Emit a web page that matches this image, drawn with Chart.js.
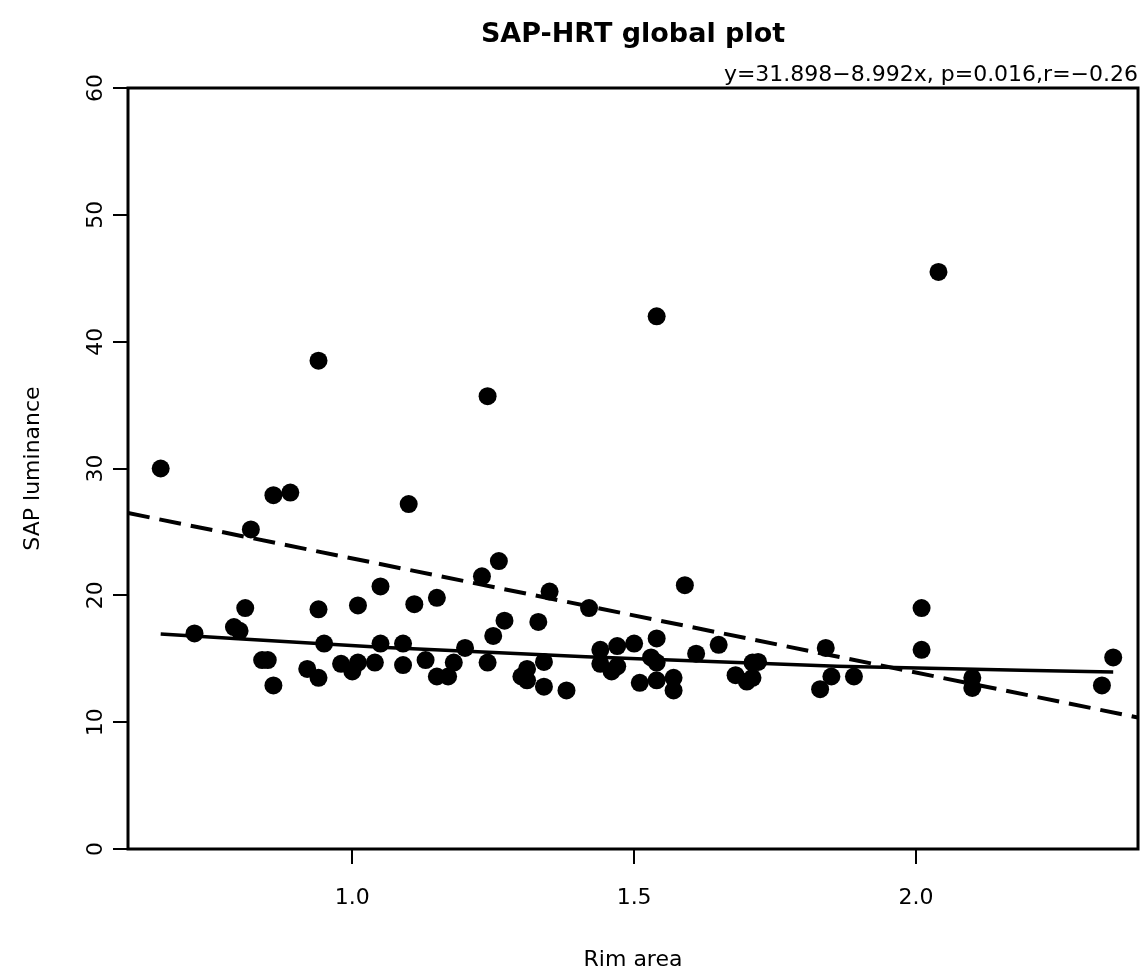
<!DOCTYPE html>
<html>
<head>
<meta charset="utf-8">
<title>SAP-HRT global plot</title>
<script src="https://cdn.jsdelivr.net/npm/chart.js@4.4.0/dist/chart.umd.min.js"></script>
<style>
  html, body { margin: 0; padding: 0; background: #fff; }
  #wrap { width: 1147px; height: 973px; }
</style>
</head>
<body>
<div id="wrap"><canvas id="chart" width="1147" height="973"></canvas></div>
<script>
// Data
const rimArea = [
  0.66, 0.72, 0.79, 0.80, 0.81, 0.82, 0.84, 0.85, 0.86, 0.86,
  0.89, 0.92, 0.94, 0.94, 0.94, 0.95, 0.98, 1.00, 1.01, 1.01,
  1.04, 1.05, 1.05, 1.09, 1.09, 1.10, 1.11, 1.13, 1.15, 1.15,
  1.17, 1.18, 1.20, 1.23, 1.24, 1.24, 1.25, 1.26, 1.27, 1.30,
  1.31, 1.31, 1.33, 1.34, 1.34, 1.35, 1.38, 1.42, 1.44, 1.44,
  1.46, 1.47, 1.47, 1.50, 1.51, 1.53, 1.54, 1.54, 1.54, 1.54,
  1.57, 1.57, 1.59, 1.61, 1.65, 1.68, 1.70, 1.71, 1.71, 1.72,
  1.83, 1.84, 1.85, 1.89, 2.01, 2.01, 2.04, 2.10, 2.10, 2.33,
  2.35,
];
const sapLuminance = [
  30.0, 17.0, 17.5, 17.2, 19.0, 25.2, 14.9, 14.9, 27.9, 12.9,
  28.1, 14.2, 38.5, 18.9, 13.5, 16.2, 14.6, 14.0, 14.7, 19.2,
  14.7, 20.7, 16.2, 16.2, 14.5, 27.2, 19.3, 14.9, 19.8, 13.6,
  13.6, 14.7, 15.85, 21.5, 35.7, 14.7, 16.8, 22.7, 18.0, 13.6,
  14.2, 13.3, 17.9, 14.75, 12.8, 20.3, 12.5, 19.0, 15.7, 14.6,
  14.0, 16.0, 14.4, 16.2, 13.1, 15.1, 16.6, 14.7, 13.3, 42.0,
  13.5, 12.5, 20.8, 15.4, 16.1, 13.7, 13.2, 14.7, 13.5, 14.75,
  12.6, 15.85, 13.6, 13.6, 19.0, 15.7, 45.5, 13.5, 12.7, 12.9,
  15.1,
];

// smooth (solid) curve
const smoothX = [0.66, 1.05, 1.45, 1.86, 2.35];
const smoothY = [16.95, 15.9, 15.1, 14.4, 13.95];

// regression line y = 31.898 - 8.992x, across the plot
const regX = [0.602, 2.394];
const regY = [26.49, 10.37];

const xTicks = [1.0, 1.5, 2.0];
const yTicks = [0, 10, 20, 30, 40, 50, 60];

const FONT = "DejaVu Sans";

const toPoints = (xs, ys) => xs.map((x, i) => ({ x, y: ys[i] }));

// R style box around the plot region
const plotBox = {
  id: "plotBox",
  afterDraw(chart) {
    const { ctx, chartArea: a } = chart;
    ctx.save();
    ctx.strokeStyle = "#000";
    ctx.lineWidth = 3;
    ctx.strokeRect(a.left, a.top, a.right - a.left, a.bottom - a.top);
    ctx.restore();
  },
};

const ctx = document.getElementById("chart").getContext("2d");

new Chart(ctx, {
  type: "scatter",
  data: {
    datasets: [
      {
        label: "SAP luminance",
        data: toPoints(rimArea, sapLuminance),
        backgroundColor: "#000",
        borderWidth: 0,
        pointRadius: 9,
        pointHoverRadius: 9,
        order: 3,
      },
      {
        label: "smooth",
        data: toPoints(smoothX, smoothY),
        showLine: true,
        borderColor: "#000",
        borderWidth: 3.5,
        pointRadius: 0,
        cubicInterpolationMode: "monotone",
        order: 2,
      },
      {
        label: "regression",
        data: toPoints(regX, regY),
        showLine: true,
        borderColor: "#000",
        borderWidth: 4,
        borderDash: [22, 10],
        pointRadius: 0,
        order: 1,
      },
    ],
  },
  options: {
    responsive: false,
    animation: false,
    layout: {
      padding: { left: 0, right: 5, top: 0, bottom: 0 },
    },
    plugins: {
      legend: { display: false },
      tooltip: { enabled: false },
      title: {
        display: true,
        text: "SAP-HRT global plot",
        fullSize: false,
        color: "#000",
        font: { family: FONT, size: 27, weight: "bold", lineHeight: 1.2 },
        padding: { top: 19, bottom: 12.6 },
      },
      subtitle: {
        display: true,
        text: "y=31.898\u22128.992x, p=0.016,r=\u22120.26",
        fullSize: false,
        align: "end",
        color: "#000",
        font: { family: FONT, size: 22, lineHeight: 1 },
        padding: { top: 0, bottom: 2 },
      },
    },
    scales: {
      x: {
        type: "linear",
        min: 0.602,
        max: 2.394,
        afterBuildTicks: (scale) => {
          scale.ticks = xTicks.map((v) => ({ value: v }));
        },
        afterFit: (scale) => {
          scale.height = 124;
        },
        border: { display: false },
        grid: {
          drawOnChartArea: false,
          drawTicks: true,
          tickLength: 15,
          color: "#000",
          lineWidth: 2,
        },
        ticks: {
          color: "#000",
          font: { family: FONT, size: 22 },
          padding: 21,
          maxRotation: 0,
          callback: (v) => Number(v).toFixed(1),
        },
        title: {
          display: true,
          text: "Rim area",
          color: "#000",
          font: { family: FONT, size: 22 },
          padding: { top: 0, bottom: 0 },
        },
      },
      y: {
        type: "linear",
        min: 0,
        max: 60,
        afterBuildTicks: (scale) => {
          scale.ticks = yTicks.map((v) => ({ value: v }));
        },
        afterFit: (scale) => {
          scale.width = 128;
        },
        border: { display: false },
        grid: {
          drawOnChartArea: false,
          drawTicks: true,
          tickLength: 15,
          color: "#000",
          lineWidth: 2,
        },
        ticks: {
          color: "#000",
          font: { family: FONT, size: 22 },
          padding: 3,
          minRotation: 90,
          maxRotation: 90,
          crossAlign: "center",
        },
        title: {
          display: true,
          text: "SAP luminance",
          color: "#000",
          font: { family: FONT, size: 22 },
          padding: { top: 20, bottom: 0 },
        },
      },
    },
  },
  plugins: [plotBox],
});
</script>
</body>
</html>
